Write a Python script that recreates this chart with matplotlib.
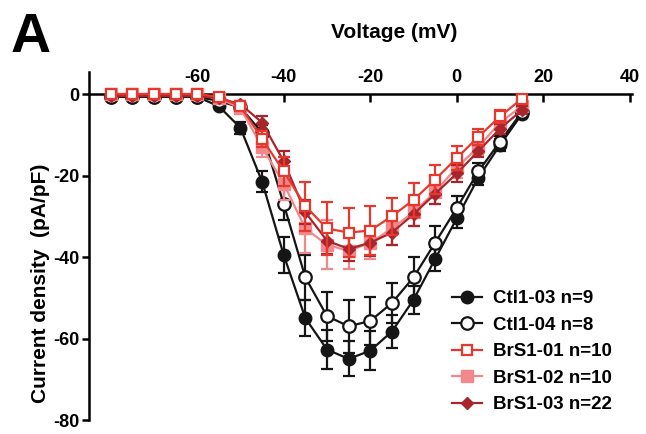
import numpy as np
import matplotlib
matplotlib.use("Agg")
import matplotlib.pyplot as plt

plt.rcParams["axes.unicode_minus"] = False

voltage = [-80, -75, -70, -65, -60, -55, -50, -45, -40, -35, -30, -25, -20, -15, -10, -5, 0, 5, 10, 15]

ctl103 = [-0.7, -0.7, -0.7, -0.7, -0.7, -3.0, -8.3, -21.5, -39.5, -55.0, -62.7, -65.0, -63.0, -58.3, -50.5, -40.5, -30.5, -20.5, -12.5, -5.0]
ctl103_sem = [0.3, 0.3, 0.3, 0.3, 0.3, 0.5, 1.5, 2.5, 4.5, 4.5, 4.8, 4.3, 4.8, 4.0, 3.5, 3.0, 2.5, 1.8, 1.5, 1.0]

ctl104 = [-0.7, -0.7, -0.7, -0.7, -0.7, -1.7, -3.3, -9.5, -27.0, -45.0, -54.5, -57.0, -55.7, -51.3, -45.0, -36.5, -28.0, -19.0, -11.7, -4.5]
ctl104_sem = [0.3, 0.3, 0.3, 0.3, 0.3, 0.5, 1.0, 2.0, 4.0, 5.5, 6.0, 6.5, 6.0, 5.0, 5.0, 4.0, 3.0, 2.0, 1.5, 1.0]

brs101 = [0.0, 0.0, 0.0, 0.0, 0.0, -0.7, -3.0, -11.0, -19.0, -27.5, -33.0, -34.0, -33.5, -30.0, -26.0, -21.0, -15.7, -10.5, -5.5, -1.2]
brs101_sem = [0.3, 0.3, 0.3, 0.3, 0.3, 0.5, 1.0, 2.0, 3.5, 6.0, 6.5, 6.0, 6.0, 4.5, 4.2, 3.5, 3.0, 2.0, 1.5, 1.0]

brs102 = [0.0, 0.0, 0.0, 0.0, 0.0, -1.0, -3.5, -13.0, -22.0, -33.0, -37.0, -38.5, -36.5, -33.0, -29.0, -24.0, -18.0, -13.0, -7.0, -3.0]
brs102_sem = [0.3, 0.3, 0.3, 0.3, 0.3, 0.5, 1.0, 2.5, 4.0, 6.0, 6.0, 4.5, 4.0, 4.0, 3.5, 3.0, 2.5, 2.0, 1.5, 1.0]

brs103 = [-0.5, -0.5, -0.5, -0.5, -0.5, -1.0, -2.5, -7.0, -16.5, -29.0, -36.0, -38.0, -36.5, -34.0, -29.5, -24.5, -19.5, -14.0, -8.5, -4.0]
brs103_sem = [0.3, 0.3, 0.3, 0.3, 0.3, 0.4, 0.8, 1.5, 2.5, 3.0, 3.3, 3.0, 3.3, 3.0, 3.0, 2.5, 2.0, 1.5, 1.2, 1.0]

labels = ["Ctl1-03 n=9", "Ctl1-04 n=8", "BrS1-01 n=10", "BrS1-02 n=10", "BrS1-03 n=22"]

x_ticks = [-60, -40, -20, 0, 20, 40]
y_ticks = [0, -20, -40, -60, -80]

FONT = ["Liberation Sans", "DejaVu Sans"]

fig = plt.figure(figsize=(6.46, 4.34), dpi=100)
ax = fig.add_axes([89 / 646, 14 / 434, (632 - 89) / 646, (420 - 72) / 434])

# drawing order: pink and dark red under the bright red open squares
series = {
    "ctl103": (ctl103, ctl103_sem, dict(color="#151515", marker="o", mfc="#151515", ms=9)),
    "ctl104": (ctl104, ctl104_sem, dict(color="#151515", marker="o", mfc="white", ms=9, mew=1.6)),
    "brs102": (brs102, brs102_sem, dict(color="#f2878c", marker="s", mfc="#f2878c", ms=8)),
    "brs103": (brs103, brs103_sem, dict(color="#a8262b", marker="D", mfc="#a8262b", ms=6.5)),
    "brs101": (brs101, brs101_sem, dict(color="#e8382e", marker="s", mfc="white", ms=7.5, mew=1.6)),
}
lines = {}
for z, (key, (vals, sem, st)) in enumerate(series.items()):
    h = ax.errorbar(voltage, vals, yerr=sem, lw=1.6, elinewidth=1.6, capsize=4.5,
                    capthick=1.6, zorder=3 + z, **st)
    lines[key] = h[0]

leg_handles = [lines["ctl103"], lines["ctl104"], lines["brs101"], lines["brs102"], lines["brs103"]]
ax.legend(leg_handles, labels, loc="upper left", bbox_to_anchor=(452 / 646, 1 - 290 / 434),
          bbox_transform=fig.transFigure, frameon=False, handlelength=1.6,
          handletextpad=0.6, labelspacing=0.5, borderpad=0, borderaxespad=0,
          prop=dict(family=FONT, weight="bold", size=13.5))

ax.set_xlim(-85, 40.5)
ax.set_ylim(-80, 5.4)

ax.spines["right"].set_visible(False)
ax.spines["bottom"].set_visible(False)
ax.spines["top"].set_position(("data", 0))
ax.spines["top"].set_linewidth(1.8)
ax.spines["left"].set_linewidth(1.8)
ax.xaxis.set_ticks_position("top")
ax.set_xticks(x_ticks)
ax.set_yticks(y_ticks)
ax.tick_params(axis="x", direction="in", length=6, width=1.8, pad=6)
ax.tick_params(axis="y", direction="out", length=5, width=1.8, pad=2)
for lab in ax.get_xticklabels() + ax.get_yticklabels():
    lab.set_fontfamily(FONT)
    lab.set_fontweight("bold")
    lab.set_fontsize(13)

fig.text(394 / 646, 1 - 32 / 434, "Voltage (mV)", ha="center", va="center",
         family=FONT, weight="bold", fontsize=15)
fig.text(41 / 646, 1 - 283 / 434, "Current density  (pA/pF)", ha="center", va="center",
         rotation=90, family=FONT, weight="bold", fontsize=15)
fig.text(31 / 646, 1 - 38 / 434, "A", ha="center", va="center",
         family=FONT, weight="bold", fontsize=40)

fig.savefig("out.png", dpi=100)
